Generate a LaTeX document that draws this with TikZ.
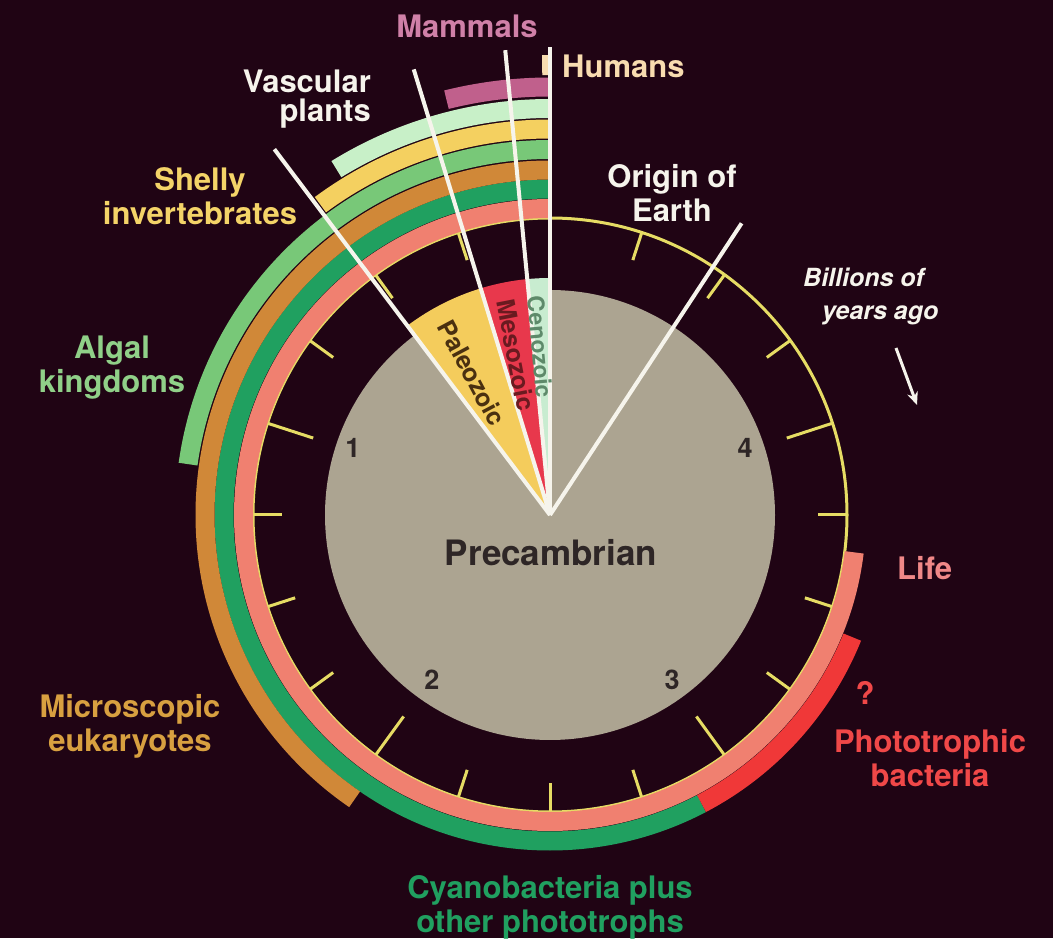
\documentclass[tikz,border=0pt]{standalone}
\usepackage{fontspec}
\setmainfont{TeX Gyre Heros}
\usetikzlibrary{arrows.meta}
\definecolor{bg}{HTML}{200414}
\definecolor{diskc}{HTML}{ACA491}
\definecolor{ringc}{HTML}{E6DC64}
\definecolor{linec}{HTML}{F6F4EC}
\definecolor{lifec}{HTML}{F08070}
\definecolor{cyanoc}{HTML}{20A060}
\definecolor{photoc}{HTML}{F03838}
\definecolor{eukc}{HTML}{D08838}
\definecolor{algc}{HTML}{78C878}
\definecolor{shellc}{HTML}{F4D060}
\definecolor{vascc}{HTML}{C8F0C8}
\definecolor{mammc}{HTML}{C0608C}
\definecolor{humc}{HTML}{F8DCB0}
\definecolor{paleoc}{HTML}{F4CC5C}
\definecolor{mesoc}{HTML}{E8384C}
\definecolor{cenoc}{HTML}{C8ECD0}
\definecolor{darktext}{HTML}{2E2626}
\definecolor{paleotext}{HTML}{4A3010}
\definecolor{mesotext}{HTML}{6A1A20}
\definecolor{cenotext}{HTML}{5E8A6A}
\definecolor{mammtext}{HTML}{D080A8}
\definecolor{lifetext}{HTML}{F08888}
\definecolor{phototext}{HTML}{F04848}
\definecolor{euktext}{HTML}{D8A040}
\definecolor{algtext}{HTML}{90D088}
\definecolor{shelltext}{HTML}{F4D468}
\begin{document}
\begin{tikzpicture}[x=1pt,y=1pt,
  band/.style={line width=19pt},
  ticklin/.style={draw=ringc, line width=3pt},
  wline/.style={draw=linec, line width=4pt},
  lbl/.style={font=\fontsize{31}{34}\selectfont\bfseries, inner sep=0pt, align=center},
  wedgetext/.style={font=\fontsize{25}{25}\selectfont\bfseries, inner sep=0pt},
  numlbl/.style={font=\fontsize{27}{27}\selectfont\bfseries, inner sep=0pt, text=darktext, anchor=base}
]
\fill[bg] (0,0) rectangle (1053,938);
\useasboundingbox (0,0) rectangle (1053,938);
\coordinate (C) at (550,423);

% gray disk
\fill[diskc] (C) circle[radius=225pt];

% era wedges
\fill[paleoc] (C) -- ([shift={(107:237)}]C) arc[start angle=107, end angle=127, radius=237pt] -- cycle;
\fill[mesoc] (C) -- ([shift={(95.5:237)}]C) arc[start angle=95.5, end angle=107, radius=237pt] -- cycle;
\fill[cenoc] (C) -- ([shift={(90:237)}]C) arc[start angle=90, end angle=95.5, radius=237pt] -- cycle;

% yellow ring and ticks
\draw[ringc, line width=3pt] (C) circle[radius=297pt];
\foreach \k in {1,...,19} {
  \pgfmathsetmacro\th{90+18*\k}
  \pgfmathsetmacro\rin{ifthenelse(mod(\k,4)==0,249,268)}
  \draw[ticklin] ([shift={(\th:297)}]C) -- ([shift={(\th:\rin)}]C);
}

% bands
\draw[band, lifec] ([shift={(90:306.5)}]C) arc[start angle=90, end angle=353, radius=306.5pt];
\draw[band, cyanoc] ([shift={(90:326)}]C) arc[start angle=90, end angle=297.7, radius=326pt];
\draw[band, photoc] ([shift={(297.7:326)}]C) arc[start angle=297.7, end angle=338, radius=326pt];
\draw[band, eukc] ([shift={(90:345)}]C) arc[start angle=90, end angle=235.5, radius=345pt];
\draw[band, algc] ([shift={(90:365.5)}]C) arc[start angle=90, end angle=172, radius=365.5pt];
\draw[band, shellc] ([shift={(90:386)}]C) arc[start angle=90, end angle=126.5, radius=386pt];
\draw[band, vascc] ([shift={(90:406.5)}]C) arc[start angle=90, end angle=121.7, radius=406.5pt];
\draw[band, mammc] ([shift={(90:428)}]C) arc[start angle=90, end angle=104, radius=428pt];
\draw[line width=20pt, humc] ([shift={(90:450)}]C) arc[start angle=90, end angle=91.0, radius=450pt];

% white lines
\coordinate (Enow) at ([shift={(90:468)}]C);
\coordinate (Eceno) at ([shift={(95.5:467)}]C);
\coordinate (Emeso) at ([shift={(107:466)}]C);
\coordinate (Epaleo) at ([shift={(127:458)}]C);
\coordinate (Eorigin) at ([shift={(56.7:349)}]C);
\draw[wline] (C) -- (Enow);
\draw[wline] (C) -- (Eceno);
\draw[wline] (C) -- (Emeso);
\draw[wline] (C) -- (Epaleo);
\draw[wline] (C) -- (Eorigin);

% wedge texts
\node[wedgetext, rotate=-62, text=paleotext] (paleo) at (472,565) {Paleozoic};
\node[wedgetext, rotate=-79, text=mesotext] (meso) at (516,583) {Mesozoic};
\node[wedgetext, rotate=-85, text=cenotext, font=\fontsize{23}{23}\selectfont\bfseries] (ceno) at (540,591) {Cenozoic};

% center labels
\node[font=\fontsize{35}{35}\selectfont\bfseries, inner sep=0pt, text=darktext, anchor=base] (pre) at (551,372) {Precambrian};
\node[numlbl] (n1) at (353,480) {1};
\node[numlbl] (n2) at (432,248) {2};
\node[numlbl] (n3) at (672,248) {3};
\node[numlbl] (n4) at (745,480) {4};

% outer labels (anchor=base is the baseline of the last line)
\node[lbl, text=mammtext, anchor=base] (mamm) at (467,900) {Mammals};
\node[lbl, text=humc, anchor=base west] (hum) at (562,860) {Humans};
\node[lbl, text=linec, anchor=base east, align=right, font=\fontsize{31}{29}\selectfont\bfseries] (vasc) at (371,816) {Vascular\\plants};
\node[lbl, text=shelltext, anchor=base] (shell) at (200,713) {Shelly\\invertebrates};
\node[lbl, text=algtext, anchor=base] (alg) at (112,545) {Algal\\kingdoms};
\node[lbl, text=euktext, anchor=base] (euk) at (130,186) {Microscopic\\eukaryotes};
\node[lbl, text=cyanoc, anchor=base] (cyano) at (550,6) {Cyanobacteria plus\\other phototrophs};
\node[lbl, text=lifetext, anchor=base west] (life) at (897,358) {Life};
\node[lbl, text=phototext, anchor=base] (qm) at (865,233) {?};
\node[lbl, text=phototext, anchor=base] (photo) at (930,151) {Phototrophic\\bacteria};
\node[lbl, text=linec, anchor=base] (origin) at (672,716) {Origin of\\Earth};
\node[inner sep=0pt, text=linec, anchor=base west, align=left, font=\fontsize{25}{33}\selectfont\bfseries\itshape] (bya) at (803,618) {Billions of\\\hspace*{19pt}years ago};

% arrow
\coordinate (A1) at (896,590);
\coordinate (A2) at (917,533);
\draw[linec, line width=3pt, -{Stealth[length=13pt,width=11pt]}] (A1) -- (A2);
\end{tikzpicture}
\end{document}
